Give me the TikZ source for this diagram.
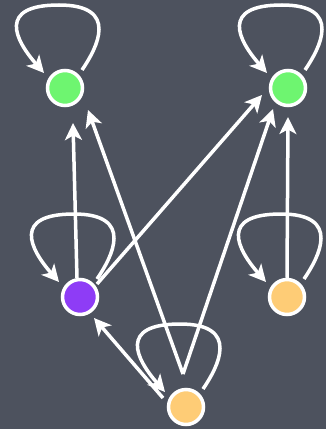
\documentclass[tikz,border=0pt]{standalone}
\usetikzlibrary{arrows.meta,backgrounds}

\definecolor{slate}{RGB}{77,82,94}
\definecolor{nodegreen}{RGB}{110,245,112}
\definecolor{nodepurple}{RGB}{142,60,246}
\definecolor{nodeorange}{RGB}{254,204,118}

% loop above a node, coordinates in px from the node centre
\newcommand{\selfloop}[1]{%
  \draw[link] ([shift={(17,-18)}]#1.center)
    .. controls ([shift={(32,-40)}]#1.center) and ([shift={(55,-83)}]#1.center) .. ([shift={(-6,-83)}]#1.center)
    .. controls ([shift={(-68,-83)}]#1.center) and ([shift={(-50,-48)}]#1.center) .. ([shift={(-21,-15)}]#1.center);}

\begin{document}
\begin{tikzpicture}[x=0.02cm, y=-0.02cm,
    vertex/.style={circle, draw=white, line width=0.07cm, minimum size=0.7cm, inner sep=0pt},
    link/.style={white, line width=0.07cm, -{Stealth[length=0.34cm, width=0.34cm, inset=0.09cm]}}]
    \useasboundingbox (0,0) rectangle (326,429);

    \node[vertex, fill=nodegreen] (g1) at (65,88) {};
    \node[vertex, fill=nodegreen] (g2) at (288,88) {};
    \node[vertex, fill=nodepurple] (pu) at (80,297) {};
    \node[vertex, fill=nodeorange] (o1) at (287,297) {};
    \node[vertex, fill=nodeorange] (o2) at (186,407) {};

    \begin{scope}[on background layer]
        \fill[slate] (0,0) rectangle (326,429);

        \selfloop{g1}
        \selfloop{g2}
        \selfloop{pu}
        \selfloop{o1}
        \selfloop{o2}

        \draw[link] ([shift={(-3,-19)}]pu.center) -- ([shift={(8,35)}]g1.center);
        \draw[link] ([shift={(17,-13)}]pu.center) -- ([shift={(-26,7)}]g2.center);
        \draw[link] ([shift={(-3,-33)}]o2.center) -- ([shift={(23,22)}]g1.center);
        \draw[link] ([shift={(-3,-33)}]o2.center) -- ([shift={(-15,21)}]g2.center);
        \draw[link] (o1.north) -- ([shift={(0,29)}]g2.center);
        \draw[link] ([shift={(-23,-9)}]o2.center) -- ([shift={(14,21)}]pu.center);
    \end{scope}
\end{tikzpicture}
\end{document}
